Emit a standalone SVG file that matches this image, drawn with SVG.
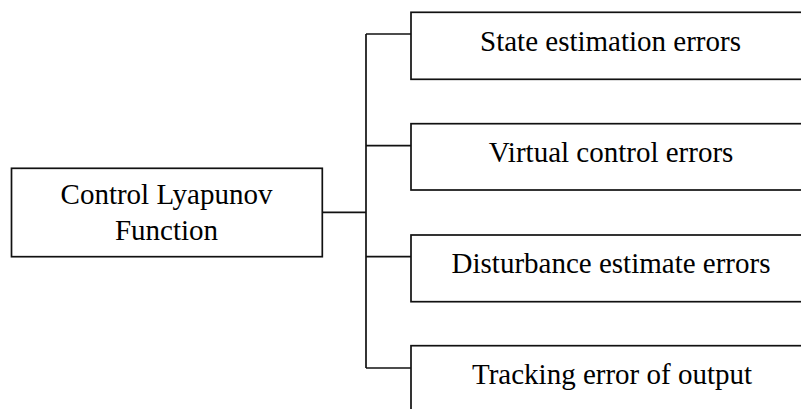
<svg xmlns="http://www.w3.org/2000/svg" width="801" height="409" viewBox="0 0 801 409">
<style>
.box{fill:#fff;stroke:#111;stroke-width:1.7}
.ln{fill:none;stroke:#111;stroke-width:1.7}
text{font-family:"Liberation Serif","Times New Roman",serif;font-size:29px;fill:#000;text-anchor:middle}
</style>
<rect width="801" height="409" fill="#fff"/>
<g id="connectors">
<line class="ln" x1="322.3" y1="212.3" x2="366" y2="212.3"/>
<line class="ln" x1="366" y1="34" x2="366" y2="368"/>
<line class="ln" x1="366" y1="34" x2="411" y2="34"/>
<line class="ln" x1="366" y1="145.7" x2="411" y2="145.7"/>
<line class="ln" x1="366" y1="256.7" x2="411" y2="256.7"/>
<line class="ln" x1="366" y1="368" x2="411" y2="368"/>
</g>
<g id="clf">
<rect class="box" x="11.5" y="168.3" width="310.8" height="88.4"/>
<text x="166.5" y="203.5">Control Lyapunov</text>
<text x="166.5" y="239.5">Function</text>
</g>
<g id="state">
<rect class="box" x="411" y="12.3" width="400" height="67"/>
<text x="610.5" y="50.5">State estimation errors</text>
</g>
<g id="virtual">
<rect class="box" x="411" y="123.7" width="400" height="66.3"/>
<text x="611" y="161.7">Virtual control errors</text>
</g>
<g id="disturbance">
<rect class="box" x="411" y="235" width="400" height="66.7"/>
<text x="611" y="272.5">Disturbance estimate errors</text>
</g>
<g id="tracking">
<rect class="box" x="411" y="345.7" width="400" height="80"/>
<text x="612" y="383.5">Tracking error of output</text>
</g>
</svg>
